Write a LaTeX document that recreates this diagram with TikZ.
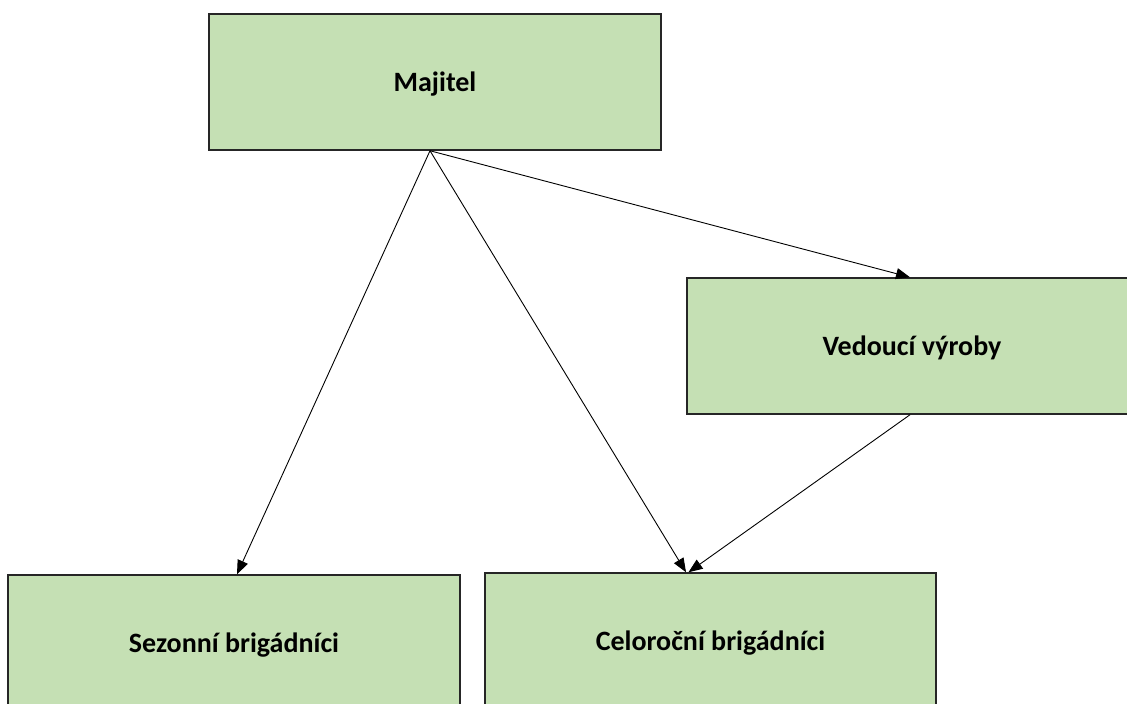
\documentclass[tikz,border=0pt]{standalone}
\usepackage{fontspec}
\setmainfont{Carlito}
\usetikzlibrary{arrows.meta}
\definecolor{boxgreen}{HTML}{C5E0B4}
\definecolor{boxline}{HTML}{262626}
\tikzset{
  orgbox/.style={draw=boxline, line width=1.5pt, fill=boxgreen, minimum height=136pt, inner sep=0pt, text height=21pt, text depth=1pt, font=\fontsize{28}{32}\selectfont\bfseries},
  link/.style={draw=black, line width=0.9pt, -{Triangle[length=14pt,width=11pt]}}
}
\begin{document}
\begin{tikzpicture}[x=1pt,y=1pt]
\clip (0,0) rectangle (1127,704);
\fill[white] (0,0) rectangle (1127,704);
\node[orgbox, minimum width=452pt] (maj) at (435,622) {Majitel};
\node[orgbox, minimum width=450pt] (ved) at (912,358) {Vedoucí výroby};
\node[orgbox, minimum width=452pt] (sez) at (234,61) {Sezonní brigádníci};
\node[orgbox, minimum width=451pt] (cel) at (710.5,63) {Celoroční brigádníci};
\coordinate (src) at ([xshift=-5pt]maj.south);
\draw[link] (src) -- ([xshift=3pt]sez.north);
\draw[link] (src) -- ([xshift=-24.5pt]cel.north);
\draw[link] (src) -- ([xshift=-2pt]ved.north);
\draw[link] ([xshift=-2pt]ved.south) -- ([xshift=-22pt]cel.north);
\end{tikzpicture}
\end{document}
